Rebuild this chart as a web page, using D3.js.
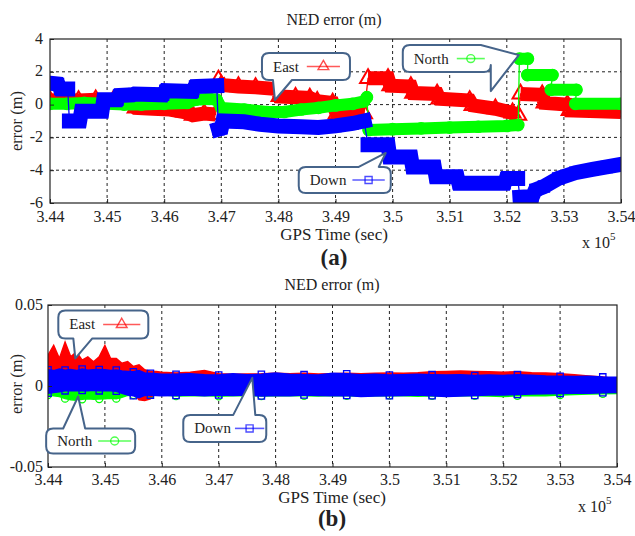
<!DOCTYPE html>
<html>
<head>
<meta charset="utf-8">
<script src="https://cdn.jsdelivr.net/npm/d3@7/dist/d3.min.js"></script>
<style>
  body { margin: 0; background: #fff; }
  text { font-family: "Liberation Serif", "Times New Roman", serif; fill: #222; }
</style>
</head>
<body>
<svg id="fig" width="635" height="536"></svg>
<script>
// ---------- data (time in units of 1e5 sec) ----------
var xTicks = [3.44, 3.45, 3.46, 3.47, 3.48, 3.49, 3.5, 3.51, 3.52, 3.53, 3.54];
var yTicksA = [4, 2, 0, -2, -4, -6];
var yTicksB = [0.05, 0, -0.05];

// (a) loosely coupled solution, [t, error m]; null = break in the marker trail
var eastA = [
  [3.4400, 0.25], [3.4420, 0.30], [3.4450, 0.25], [3.4480, 0.30], [3.4510, 0.20], [3.4540, 0.10],
  [3.4550, -0.20], [3.4580, -0.25], [3.4610, -0.30], [3.4635, -0.45], [3.4650, -0.65], [3.4670, -0.55],
  [3.4690, -0.60], null,
  [3.4695, 1.50], [3.4700, 1.20], [3.4730, 1.10], [3.4760, 1.05], [3.4798, 0.95], [3.4802, 0.50],
  [3.4830, 0.45], [3.4855, 0.40], [3.4868, 0.20], [3.4895, 0.10], [3.4902, -0.55], [3.4950, -0.55], null,
  [3.4957, 1.60], [3.4992, 1.60], [3.4996, 1.15], [3.5032, 1.10], [3.5036, 0.70], [3.5078, 0.65],
  [3.5082, 0.35], [3.5135, 0.25], [3.5140, -0.05], [3.5180, -0.25], [3.5210, -0.50], [3.5220, -0.65], null,
  [3.5224, 0.65], [3.5262, 0.60], [3.5266, 0.10], [3.5306, 0.00], [3.5310, -0.35], [3.5360, -0.40],
  [3.5400, -0.45]
];
var northA = [
  [3.4400, 0.05], [3.4430, 0.05], [3.4460, 0.10], [3.4500, 0.05], [3.4530, 0.00], [3.4560, 0.00],
  [3.4600, 0.05], [3.4640, 0.10], [3.4655, 0.30], [3.4680, 0.35], [3.4692, 0.30], [3.4700, -0.20],
  [3.4740, -0.30], [3.4780, -0.45], [3.4810, -0.45], [3.4840, -0.30], [3.4870, -0.20], [3.4900, -0.05],
  [3.4930, 0.05], [3.4950, 0.20], [3.4955, 0.45], null,
  [3.4958, -1.55], [3.5000, -1.50], [3.5050, -1.45], [3.5100, -1.40], [3.5150, -1.35], [3.5200, -1.30],
  [3.5220, -1.25], null,
  [3.5222, 2.80], [3.5237, 2.80], null,
  [3.5236, 1.80], [3.5280, 1.80], null,
  [3.5277, 0.90], [3.5322, 0.90], null,
  [3.5320, 0.05], [3.5400, 0.05]
];
var downA = [
  [3.4400, 1.30], [3.4414, 1.25], [3.4418, 0.95], [3.4431, 0.95], null,
  [3.4434, -1.00], [3.4452, -1.00], [3.4455, -0.40], [3.4491, -0.40], [3.4494, 0.30], [3.4518, 0.30],
  [3.4521, 0.55], [3.4545, 0.60], [3.4548, 0.65], [3.4598, 0.60], [3.4602, 0.85], [3.4650, 0.80],
  [3.4654, 1.10], [3.4692, 1.15], null,
  [3.4695, -1.50], [3.4700, -1.45], [3.4703, -1.00], [3.4740, -1.05], [3.4768, -1.20], [3.4800, -1.30],
  [3.4840, -1.35], [3.4870, -1.40], [3.4900, -1.30], [3.4930, -1.15], [3.4950, -1.00], null,
  [3.4957, -2.45], [3.4992, -2.45], [3.4995, -3.20], [3.5032, -3.20], [3.5035, -3.80], [3.5073, -3.80],
  [3.5076, -4.40], [3.5113, -4.40], [3.5116, -4.80], [3.5196, -4.80], [3.5199, -4.50], [3.5219, -4.50], null,
  [3.5223, -5.65], [3.5245, -5.60], [3.5250, -5.20], [3.5265, -5.00], [3.5290, -4.50], [3.5320, -4.15],
  [3.5350, -3.95], [3.5375, -3.80], [3.5400, -3.65]
];

// (b) tightly coupled solution: sample times and upper / lower envelope of each error trace (m)
var tB = [
  3.440, 3.441, 3.442, 3.443, 3.444, 3.445, 3.446, 3.447, 3.448, 3.449, 3.450,
  3.451, 3.452, 3.453, 3.454, 3.455, 3.456, 3.457, 3.458, 3.459, 3.460,
  3.4625, 3.465, 3.4675, 3.470, 3.4725, 3.475, 3.4775, 3.480, 3.4825, 3.485, 3.4875,
  3.490, 3.4925, 3.495, 3.4975, 3.500, 3.5025, 3.505, 3.5075, 3.510, 3.5125,
  3.515, 3.5175, 3.520, 3.5225, 3.525, 3.5275, 3.530, 3.5325, 3.535, 3.5375, 3.540
];
var eastHiB = [
  0.019, 0.025, 0.017, 0.027, 0.018, 0.021, 0.016, 0.018, 0.015, 0.018, 0.025,
  0.017, 0.017, 0.014, 0.015, 0.012, 0.013, 0.010, 0.009, 0.009, 0.0085,
  0.0080, 0.0085, 0.0095, 0.0075, 0.0072, 0.0074, 0.0075, 0.0078, 0.0075, 0.0078, 0.0074,
  0.0076, 0.0078, 0.0076, 0.0078, 0.0080, 0.0078, 0.0082, 0.0088, 0.0090, 0.0092,
  0.0090, 0.0088, 0.0085, 0.0088, 0.0082, 0.0080, 0.0075, 0.0070, 0.0062, 0.0055, 0.0045
];
var eastLoB = [
  -0.002, -0.002, -0.002, -0.002, -0.002, -0.002, -0.002, -0.002, -0.002, -0.002, -0.002,
  -0.002, -0.002, -0.002, -0.002, -0.004, -0.0085, -0.009, -0.008, -0.004, -0.003,
  -0.003, -0.003, -0.003, -0.003, -0.003, -0.003, -0.003, -0.003, -0.003, -0.003, -0.003,
  -0.003, -0.003, -0.003, -0.003, -0.003, -0.003, -0.003, -0.003, -0.003, -0.003,
  -0.003, -0.003, -0.003, -0.003, -0.003, -0.003, -0.003, -0.003, -0.003, -0.003, -0.004
];
var northHiB = [
  0.003, 0.003, 0.003, 0.003, 0.003, 0.003, 0.003, 0.003, 0.003, 0.003, 0.003,
  0.003, 0.003, 0.003, 0.003, 0.003, 0.003, 0.003, 0.003, 0.003, 0.003,
  0.003, 0.003, 0.003, 0.003, 0.003, 0.003, 0.003, 0.003, 0.003, 0.003, 0.003,
  0.003, 0.003, 0.003, 0.003, 0.003, 0.003, 0.003, 0.003, 0.003, 0.003,
  0.003, 0.003, 0.003, 0.003, 0.003, 0.003, 0.003, 0.003, 0.003, 0.003, 0.003
];
var northLoB = [
  -0.0055, -0.0060, -0.0065, -0.0078, -0.0085, -0.0088, -0.0082, -0.0078, -0.0082, -0.0080, -0.0078,
  -0.0076, -0.0078, -0.0070, -0.0058, -0.0056, -0.0055, -0.0056, -0.0052, -0.0055, -0.0054,
  -0.0062, -0.0060, -0.0058, -0.0064, -0.0060, -0.0058, -0.0062, -0.0060, -0.0058, -0.0060, -0.0062,
  -0.0058, -0.0060, -0.0062, -0.0060, -0.0058, -0.0060, -0.0064, -0.0060, -0.0062, -0.0058,
  -0.0060, -0.0062, -0.0065, -0.0060, -0.0058, -0.0060, -0.0056, -0.0052, -0.0050, -0.0048, -0.0046
];
var downHiB = [
  0.0100, 0.0095, 0.0105, 0.0098, 0.0102, 0.0095, 0.0105, 0.0098, 0.0100, 0.0102, 0.0100,
  0.0095, 0.0098, 0.0092, 0.0090, 0.0088, 0.0095, 0.0080, 0.0078, 0.0075, 0.0072,
  0.0072, 0.0075, 0.0070, 0.0068, 0.0075, 0.0070, 0.0072, 0.0080, 0.0072, 0.0070, 0.0068,
  0.0078, 0.0075, 0.0070, 0.0072, 0.0068, 0.0070, 0.0072, 0.0070, 0.0068, 0.0070,
  0.0065, 0.0068, 0.0065, 0.0070, 0.0066, 0.0062, 0.0060, 0.0058, 0.0060, 0.0056, 0.0054
];
var downLoB = [
  -0.0045, -0.0040, -0.0035, -0.0030, -0.0028, -0.0030, -0.0028, -0.0030, -0.0027, -0.0030, -0.0028,
  -0.0030, -0.0032, -0.0045, -0.0055, -0.0060, -0.0072, -0.0058, -0.0056, -0.0058, -0.0060,
  -0.0058, -0.0056, -0.0060, -0.0055, -0.0058, -0.0056, -0.0062, -0.0058, -0.0060, -0.0055, -0.0058,
  -0.0060, -0.0058, -0.0065, -0.0062, -0.0060, -0.0058, -0.0056, -0.0060, -0.0065, -0.0062,
  -0.0058, -0.0056, -0.0055, -0.0052, -0.0050, -0.0048, -0.0046, -0.0045, -0.0044, -0.0042, -0.0040
];

// ---------- drawing ----------
var svg = d3.select('#fig');
var colors = { East: '#ff0000', North: '#00ff00', Down: '#0000ff' };
var symbols = { East: d3.symbolTriangle, North: d3.symbolCircle, Down: d3.symbolSquare };
var boxStroke = '#46648a';

function fmt(d) { return String(+d.toFixed(2)); }

function frame(x, y, yTicks, gridY, id) {
    var g = svg.append('g');
    var x0 = x.range()[0], x1 = x.range()[1], y0 = y.range()[1], y1 = y.range()[0];

    svg.append('clipPath').attr('id', id)
        .append('rect').attr('x', x0).attr('y', y0).attr('width', x1 - x0).attr('height', y1 - y0);

    // dashed grid
    g.selectAll('.gx').data(xTicks.slice(1, -1)).enter().append('line')
        .attr('x1', function(d) { return x(d); }).attr('x2', function(d) { return x(d); })
        .attr('y1', y0).attr('y2', y1)
        .attr('stroke', '#222').attr('stroke-dasharray', '3,3');
    if (gridY) {
        g.selectAll('.gy').data(yTicks.slice(1, -1)).enter().append('line')
            .attr('y1', function(d) { return y(d); }).attr('y2', function(d) { return y(d); })
            .attr('x1', x0).attr('x2', x1)
            .attr('stroke', '#222').attr('stroke-dasharray', '3,3');
    }
    return g;
}

function axes(x, y, yTicks, padX, padY) {
    var y1 = y.range()[0], x0 = x.range()[0];
    var ax = svg.append('g').attr('transform', 'translate(0,' + y1 + ')')
        .call(d3.axisBottom(x).tickValues(xTicks).tickSize(-4).tickPadding(padX).tickFormat(fmt));
    var ay = svg.append('g').attr('transform', 'translate(' + x0 + ',0)')
        .call(d3.axisLeft(y).tickValues(yTicks).tickSize(-4).tickPadding(padY).tickFormat(function(d) { return String(d); }));
    [ax, ay].forEach(function(a) {
        a.attr('font-family', null).attr('font-size', null);
        a.select('.domain').remove();
        a.selectAll('.tick line').attr('stroke', '#222');
        a.selectAll('.tick text').style('font-size', '16px').attr('fill', '#222');
    });
    ay.selectAll('.tick text').attr('dy', '0.25em');
    svg.append('rect')
        .attr('x', x.range()[0]).attr('y', y.range()[1])
        .attr('width', x.range()[1] - x.range()[0]).attr('height', y.range()[0] - y.range()[1])
        .attr('fill', 'none').attr('stroke', '#222').attr('stroke-width', 1.2);
}

function labels(cx, titleY, xLabY, yLabCy, expX, expY, tagY, tag) {
    svg.append('text').attr('x', cx).attr('y', titleY).attr('text-anchor', 'middle')
        .style('font-size', '16px').text('NED error (m)');
    svg.append('text').attr('x', cx).attr('y', xLabY).attr('text-anchor', 'middle')
        .style('font-size', '17px').text('GPS Time (sec)');
    svg.append('text').attr('transform', 'translate(22,' + yLabCy + ') rotate(-90)')
        .attr('text-anchor', 'middle').style('font-size', '16.5px').text('error (m)');
    var e = svg.append('text').attr('x', expX).attr('y', expY).style('font-size', '16px');
    e.append('tspan').text('x 10');
    e.append('tspan').attr('dy', -8).style('font-size', '11px').text('5');
    svg.append('text').attr('x', cx).attr('y', tagY).attr('text-anchor', 'middle')
        .style('font-size', '23px').style('font-weight', 'bold').attr('fill', '#111').text(tag);
}

// thick marker trail + thin connecting line + hollow markers
function trail(g, x, y, data, name, width, cap, msize) {
    var col = colors[name];
    var pts = data.filter(function(d) { return d; });
    var line = d3.line().x(function(d) { return x(d[0]); }).y(function(d) { return y(d[1]); });
    g.append('path').datum(pts).attr('d', line)
        .attr('fill', 'none').attr('stroke', col).attr('stroke-width', 1.3);
    g.append('path').datum(data).attr('d', line.defined(function(d) { return d; }))
        .attr('fill', 'none').attr('stroke', col).attr('stroke-width', width)
        .attr('stroke-linecap', cap).attr('stroke-linejoin', cap === 'round' ? 'round' : 'miter');
    g.selectAll(null).data(pts).enter().append('path')
        .attr('transform', function(d) { return 'translate(' + x(d[0]) + ',' + y(d[1]) + ')'; })
        .attr('d', d3.symbol().type(symbols[name]).size(msize))
        .attr('fill', 'none').attr('stroke', col).attr('stroke-width', 2);
}

// noisy band: filled envelope with hollow markers along its edges
function band(g, x, y, hi, lo, name, edge) {
    var col = colors[name];
    var rows = tB.map(function(t, i) { return [t, lo[i], hi[i]]; });
    g.append('path').datum(rows)
        .attr('d', d3.area().x(function(d) { return x(d[0]); })
            .y0(function(d) { return y(d[1]); }).y1(function(d) { return y(d[2]); }))
        .attr('fill', col).attr('stroke', col).attr('stroke-width', 1.5).attr('stroke-linejoin', 'miter');
    if (!edge) return;
    var marks = [];
    rows.forEach(function(d, i) {
        if (i % 3) return;
        if (edge !== 'lo') marks.push([d[0], d[2]]);
        if (edge !== 'hi') marks.push([d[0], d[1]]);
    });
    g.selectAll(null).data(marks).enter().append('path')
        .attr('transform', function(d) { return 'translate(' + x(d[0]) + ',' + y(d[1]) + ')'; })
        .attr('d', d3.symbol().type(symbols[name]).size(40))
        .attr('fill', 'none').attr('stroke', col).attr('stroke-width', 1.3);
}

// rounded callout with a wedge pointing to tip
function callout(x, y, c) {
    var tx = x(c.tip[0]), ty = y(c.tip[1]);
    var x0 = tx + c.box[0], y0 = ty + c.box[1], x1 = x0 + c.box[2], y1 = y0 + c.box[3], r = 7;
    var a = tx + c.base[0], b = tx + c.base[1];
    var p = 'M' + (x0 + r) + ',' + y0;
    if (c.side === 'top') p += 'L' + a + ',' + y0 + 'L' + tx + ',' + ty + 'L' + b + ',' + y0;
    if (c.side === 'corner') {
        p += 'L' + a + ',' + y0 + 'L' + tx + ',' + ty + 'L' + x1 + ',' + (y0 + c.base[1] - c.base[0] + 8);
    } else {
        p += 'L' + (x1 - r) + ',' + y0 + 'Q' + x1 + ',' + y0 + ',' + x1 + ',' + (y0 + r);
    }
    p += 'L' + x1 + ',' + (y1 - r) + 'Q' + x1 + ',' + y1 + ',' + (x1 - r) + ',' + y1;
    if (c.side === 'bottom') p += 'L' + b + ',' + y1 + 'L' + tx + ',' + ty + 'L' + a + ',' + y1;
    p += 'L' + (x0 + r) + ',' + y1 + 'Q' + x0 + ',' + y1 + ',' + x0 + ',' + (y1 - r);
    p += 'L' + x0 + ',' + (y0 + r) + 'Q' + x0 + ',' + y0 + ',' + (x0 + r) + ',' + y0 + 'Z';
    svg.append('path').attr('d', p).attr('fill', '#fff')
        .attr('stroke', boxStroke).attr('stroke-width', 2).attr('stroke-linejoin', 'round');

    var my = (y0 + y1) / 2;
    var t = svg.append('text').attr('x', x0 + 11).attr('y', my + 5).style('font-size', '15px').text(c.name);
    var lx0 = x0 + 11 + t.node().getComputedTextLength() + c.gap, lx1 = x1 - c.end;
    var col = colors[c.name];
    svg.append('line').attr('x1', lx0).attr('x2', lx1).attr('y1', my).attr('y2', my)
        .attr('stroke', col).attr('stroke-opacity', 0.65).attr('stroke-width', 1.6);
    svg.append('path').attr('transform', 'translate(' + ((lx0 + lx1) / 2) + ',' + my + ')')
        .attr('d', d3.symbol().type(symbols[c.name]).size(50))
        .attr('fill', 'none').attr('stroke', col).attr('stroke-opacity', 0.7).attr('stroke-width', 1.4);
}

// ---- panel (a) ----
var xA = d3.scaleLinear().domain([3.44, 3.54]).range([50, 621]);
var yA = d3.scaleLinear().domain([-6, 4]).range([203, 39]);
frame(xA, yA, yTicksA, true, 'clipA');
var gA = svg.append('g').attr('clip-path', 'url(#clipA)');
trail(gA, xA, yA, eastA, 'East', 14, 'butt', 110);
trail(gA, xA, yA, northA, 'North', 12, 'round', 90);
trail(gA, xA, yA, downA, 'Down', 15, 'square', 110);
axes(xA, yA, yTicksA, 8, 7);
labels(334, 25, 240, 121, 582, 248, 265, '(a)');

// ---- panel (b) ----
var xB = d3.scaleLinear().domain([3.44, 3.54]).range([48, 617]);
var yB = d3.scaleLinear().domain([-0.05, 0.05]).range([467, 305]);
frame(xB, yB, yTicksB, true, 'clipB');
var gB = svg.append('g').attr('clip-path', 'url(#clipB)');
band(gB, xB, yB, eastHiB, eastLoB, 'East', null);
band(gB, xB, yB, northHiB, northLoB, 'North', 'lo');
band(gB, xB, yB, downHiB, downLoB, 'Down', 'both');
axes(xB, yB, yTicksB, 7, 5);
labels(332, 290, 503, 384, 578, 512, 526, '(b)');

// ---- callouts ----
callout(xA, yA, { name: 'East', tip: [3.4794, 0.28], box: [-13, -47, 88, 27], base: [-2, 17], side: 'bottom', gap: 8, end: 10 });
callout(xA, yA, { name: 'North', tip: [3.5221, 3.02], box: [-116, -10, 88, 27], base: [-38, 0], side: 'corner', gap: 8, end: 6 });
callout(xA, yA, { name: 'Down', tip: [3.4988, -2.95], box: [-87, 14, 92, 26], base: [-27, -7], side: 'top', gap: 6, end: 6 });
callout(xB, yB, { name: 'East', tip: [3.4448, 0.017], box: [-17, -48, 90, 28], base: [-2, 17], side: 'bottom', gap: 8, end: 8 });
callout(xB, yB, { name: 'North', tip: [3.4453, -0.0065], box: [-32, 32, 89, 25], base: [-15, 7], side: 'top', gap: 6, end: 4 });
callout(xB, yB, { name: 'Down', tip: [3.4759, 0.005], box: [-69, 37, 83, 27], base: [-19, 3], side: 'top', gap: 4, end: 2 });
</script>
</body>
</html>
